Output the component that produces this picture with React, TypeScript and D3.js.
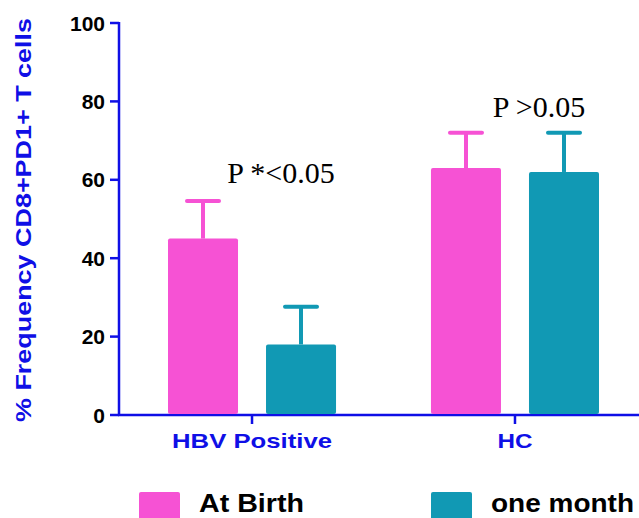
import React, { useEffect, useRef } from "react";
import * as d3 from "d3";

const groups = ["HBV Positive", "HC"];
const series = ["At Birth", "one month"];
const colors = ["#f652d4", "#1199b4"];
const means = [
  [45, 18],
  [63, 62],
];
const errors = [
  [9.6, 9.6],
  [9, 10],
];
const pLabels = ["P *<0.05", "P >0.05"];
const yTicks = [0, 20, 40, 60, 80, 100];

const W = 639;
const H = 518;
const axisBlue = "#0f0fe6";
const sans = "Arial, Liberation Sans, sans-serif";

function App() {
  const ref = useRef<SVGSVGElement>(null);

  useEffect(() => {
    const svg = d3.select(ref.current);
    svg.selectAll("*").remove();

    const y = d3.scaleLinear().domain([0, 100]).range([415, 23]);
    const x0 = d3.scaleBand().domain(groups).range([168, 599]).paddingInner(0.361).paddingOuter(0);
    const x1 = d3.scaleBand().domain(series).range([0, x0.bandwidth()]).paddingInner(0.2857).paddingOuter(0);

    // y axis
    const yAxis = svg.append("g").attr("transform", "translate(119,0)");
    yAxis.append("line").attr("y1", y(100) - 1).attr("y2", y(0)).attr("stroke", axisBlue).attr("stroke-width", 2.5);
    yAxis
      .selectAll(".tick")
      .data(yTicks)
      .join("g")
      .attr("transform", (d) => `translate(0,${y(d)})`)
      .call((g) => g.append("line").attr("x1", -9).attr("x2", 0).attr("stroke", axisBlue).attr("stroke-width", 2.5))
      .call((g) =>
        g
          .append("text")
          .attr("x", -14)
          .attr("dy", "0.36em")
          .attr("text-anchor", "end")
          .attr("font-family", sans)
          .attr("font-weight", "bold")
          .attr("font-size", 21)
          .attr("fill", "#000")
          .text((d) => d)
      );

    svg
      .append("text")
      .attr("transform", `translate(31,${(y(0) + y(100)) / 2 + 1}) rotate(-90)`)
      .attr("text-anchor", "middle")
      .attr("font-family", sans)
      .attr("font-weight", "bold")
      .attr("font-size", 22)
      .attr("textLength", 404)
      .attr("lengthAdjust", "spacingAndGlyphs")
      .attr("fill", axisBlue)
      .text("% Frequency CD8+PD1+ T cells");

    // x axis
    const xAxis = svg.append("g").attr("transform", `translate(0,${y(0)})`);
    xAxis.append("line").attr("x1", 118).attr("x2", W).attr("stroke", axisBlue).attr("stroke-width", 2.5);
    const catWidths = [160, 35];
    groups.forEach((g, gi) => {
      const cx = (x0(g) as number) + x0.bandwidth() / 2;
      xAxis.append("line").attr("x1", cx).attr("x2", cx).attr("y1", 0).attr("y2", 9).attr("stroke", axisBlue).attr("stroke-width", 2.5);
      xAxis
        .append("text")
        .attr("x", cx)
        .attr("y", 33)
        .attr("text-anchor", "middle")
        .attr("font-family", sans)
        .attr("font-weight", "bold")
        .attr("font-size", 21)
        .attr("textLength", catWidths[gi])
        .attr("lengthAdjust", "spacingAndGlyphs")
        .attr("fill", axisBlue)
        .text(g);
    });

    // bars + error bars
    groups.forEach((g, gi) => {
      const gx = x0(g) as number;
      series.forEach((s, si) => {
        const bx = gx + (x1(s) as number);
        const bw = x1.bandwidth();
        const cx = bx + bw / 2;
        const top = y(means[gi][si]);
        const etop = y(means[gi][si] + errors[gi][si]);
        svg.append("line").attr("x1", cx).attr("x2", cx).attr("y1", top).attr("y2", etop).attr("stroke", colors[si]).attr("stroke-width", 4);
        svg
          .append("line")
          .attr("x1", cx - 16)
          .attr("x2", cx + 16)
          .attr("y1", etop)
          .attr("y2", etop)
          .attr("stroke", colors[si])
          .attr("stroke-width", 4)
          .attr("stroke-linecap", "round");
        svg
          .append("rect")
          .attr("x", bx)
          .attr("y", top)
          .attr("width", bw)
          .attr("height", y(0) - top - 1)
          .attr("rx", 2)
          .attr("fill", colors[si]);
      });
    });

    // p-value labels
    const pPos = [
      [281, 183],
      [539, 117],
    ];
    pLabels.forEach((p, i) => {
      svg
        .append("text")
        .attr("x", pPos[i][0])
        .attr("y", pPos[i][1])
        .attr("text-anchor", "middle")
        .attr("font-family", "Times New Roman, Liberation Serif, serif")
        .attr("font-size", 30)
        .attr("fill", "#000")
        .text(p);
    });

    // legend
    const legendX = [139, 431];
    const legendW = [105, 143];
    series.forEach((s, si) => {
      svg.append("rect").attr("x", legendX[si]).attr("y", 492).attr("width", 41).attr("height", 30).attr("rx", 2).attr("fill", colors[si]);
      svg
        .append("text")
        .attr("x", legendX[si] + 60)
        .attr("y", 512)
        .attr("font-family", sans)
        .attr("font-weight", "bold")
        .attr("font-size", 25)
        .attr("textLength", legendW[si])
        .attr("lengthAdjust", "spacingAndGlyphs")
        .attr("fill", "#000")
        .text(s);
    });
  }, []);

  return (
    <svg
      ref={ref}
      width={W}
      height={H}
      style={{ position: "absolute", left: 0, top: 0, background: "#fff" }}
    />
  );
}

export default App;
